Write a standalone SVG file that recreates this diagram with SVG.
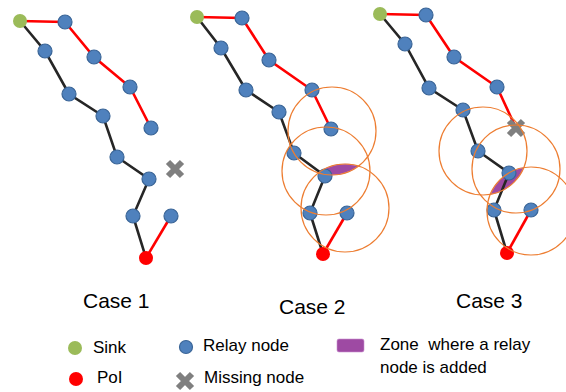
<svg xmlns="http://www.w3.org/2000/svg" width="566" height="392" viewBox="0 0 566 392">
<defs>
<style>
.k{stroke:#262626;stroke-width:2.6;fill:none}
.r{stroke:#FF0000;stroke-width:2.6;fill:none}
.relay{fill:#4F81BD;stroke:#3A6597;stroke-width:1.2}
.sink{fill:#9BBB59}
.poi{fill:#FF0000}
.rng{fill:none;stroke:#ED7D31;stroke-width:1.2}
.zone{fill:#9E4AA3;stroke:#C98FD0;stroke-width:0.6}
.miss{stroke:#7F7F7F;stroke-width:6}
.t{font-family:"Liberation Sans",Arial,sans-serif;fill:#000}
.case{font-size:21px}
.leg{font-size:17px}
</style>
<g id="xmark"><path class="miss" d="M-7,-7L7,7M7,-7L-7,7"/></g>
</defs>
<rect width="566" height="392" fill="#fff"/>

<!-- Case 1 -->
<g id="connectors1">
<polyline class="k" points="20,21 45,51 69,94 103,116 117,157 149,179 133,216 146,258"/>
<polyline class="r" points="20,21 65,22 94,57 130,87 151,128"/>
<polyline class="r" points="146,258 171,216"/>
</g>
<g id="c1-sink"><circle class="sink" cx="20" cy="21" r="7"/></g>
<g id="c1-n1"><circle class="relay" cx="65" cy="22" r="7"/></g>
<g id="c1-n2"><circle class="relay" cx="94" cy="57" r="7"/></g>
<g id="c1-n3"><circle class="relay" cx="130" cy="87" r="7"/></g>
<g id="c1-n4"><circle class="relay" cx="151" cy="128" r="7"/></g>
<g id="c1-n5"><circle class="relay" cx="45" cy="51" r="7"/></g>
<g id="c1-n6"><circle class="relay" cx="69" cy="94" r="7"/></g>
<g id="c1-n7"><circle class="relay" cx="103" cy="116" r="7"/></g>
<g id="c1-n8"><circle class="relay" cx="117" cy="157" r="7"/></g>
<g id="c1-n9"><circle class="relay" cx="149" cy="179" r="7"/></g>
<g id="c1-n10"><circle class="relay" cx="133" cy="216" r="7"/></g>
<g id="c1-n11"><circle class="relay" cx="171" cy="216" r="7"/></g>
<g id="c1-poi"><circle class="poi" cx="146" cy="258" r="7"/></g>
<g id="c1-missing"><use href="#xmark" x="175" y="169"/></g>
<g id="c1-label"><text class="t case" x="83" y="308">Case 1</text></g>

<!-- Case 2 -->
<g id="c2-zone"><path class="zone" d="M318.5,172.9A44,44 0 0 1 358.5,166.1A44,44 0 0 1 318.5,172.9Z"/></g>
<g id="connectors2">
<polyline class="k" points="197,17 221,48 246,90 279,112 294,153 325,176 310,213 323,254"/>
<polyline class="r" points="197,17 242,18 269,60 312,90 331,129"/>
<polyline class="r" points="323,254 347,213"/>
</g>
<g id="c2-sink"><circle class="sink" cx="197" cy="17" r="7"/></g>
<g id="c2-n1"><circle class="relay" cx="242" cy="18" r="7"/></g>
<g id="c2-n2"><circle class="relay" cx="269" cy="60" r="7"/></g>
<g id="c2-n3"><circle class="relay" cx="312" cy="90" r="7"/></g>
<g id="c2-n4"><circle class="relay" cx="331" cy="129" r="7"/></g>
<g id="c2-n5"><circle class="relay" cx="221" cy="48" r="7"/></g>
<g id="c2-n6"><circle class="relay" cx="246" cy="90" r="7"/></g>
<g id="c2-n7"><circle class="relay" cx="279" cy="112" r="7"/></g>
<g id="c2-n8"><circle class="relay" cx="294" cy="153" r="7"/></g>
<g id="c2-n9"><circle class="relay" cx="325" cy="176" r="7"/></g>
<g id="c2-n10"><circle class="relay" cx="310" cy="213" r="7"/></g>
<g id="c2-n11"><circle class="relay" cx="347" cy="213" r="7"/></g>
<g id="c2-poi"><circle class="poi" cx="323" cy="254" r="7"/></g>
<g id="c2-ranges">
<circle class="rng" cx="332" cy="131" r="44"/>
<circle class="rng" cx="326" cy="171" r="44"/>
<circle class="rng" cx="345" cy="208" r="44"/>
</g>
<g id="c2-label"><text class="t case" x="279" y="314">Case 2</text></g>

<!-- Case 3 -->
<g id="c3-zone"><path class="zone" d="M490.3,194.4A44,44 0 0 1 523.8,167.6A44,44 0 0 1 490.3,194.4Z"/></g>
<g id="connectors3">
<polyline class="k" points="380,14 405,44 429,88 463,110 478,151 509,173 494,210 507,253"/>
<polyline class="r" points="380,14 426,15 454,57 497,87 516,128"/>
<polyline class="r" points="507,253 531,210"/>
</g>
<g id="c3-sink"><circle class="sink" cx="380" cy="14" r="7"/></g>
<g id="c3-n1"><circle class="relay" cx="426" cy="15" r="7"/></g>
<g id="c3-n2"><circle class="relay" cx="454" cy="57" r="7"/></g>
<g id="c3-n3"><circle class="relay" cx="497" cy="87" r="7"/></g>
<g id="c3-n5"><circle class="relay" cx="405" cy="44" r="7"/></g>
<g id="c3-n6"><circle class="relay" cx="429" cy="88" r="7"/></g>
<g id="c3-n7"><circle class="relay" cx="463" cy="110" r="7"/></g>
<g id="c3-n8"><circle class="relay" cx="478" cy="151" r="7"/></g>
<g id="c3-n9"><circle class="relay" cx="509" cy="173" r="7"/></g>
<g id="c3-n10"><circle class="relay" cx="494" cy="210" r="7"/></g>
<g id="c3-n11"><circle class="relay" cx="531" cy="210" r="7"/></g>
<g id="c3-poi"><circle class="poi" cx="507" cy="253" r="7"/></g>
<g id="c3-missing"><use href="#xmark" x="516" y="128"/></g>
<g id="c3-ranges">
<circle class="rng" cx="483" cy="151" r="44"/>
<circle class="rng" cx="516" cy="169" r="44"/>
<circle class="rng" cx="531" cy="211" r="44"/>
</g>
<g id="c3-label"><text class="t case" x="456" y="308">Case 3</text></g>

<!-- Legend -->
<g id="legend-sink"><circle class="sink" cx="75" cy="348" r="7"/><text class="t leg" x="93" y="353">Sink</text></g>
<g id="legend-poi"><circle class="poi" cx="76" cy="379" r="7"/><text class="t leg" x="97" y="383">PoI</text></g>
<g id="legend-relay"><circle class="relay" cx="186" cy="347" r="6.5"/><text class="t leg" x="203" y="351">Relay node</text></g>
<g id="legend-missing"><use href="#xmark" x="185" y="381"/><text class="t leg" x="204" y="383">Missing node</text></g>
<g id="legend-zone"><rect x="337" y="339" width="27" height="13" rx="2" fill="#9E4AA3" stroke="#C98FD0" stroke-width="0.6"/>
<text class="t leg" x="380" y="350" xml:space="preserve">Zone  where a relay</text>
<text class="t leg" x="380" y="373">node is added</text></g>
</svg>
